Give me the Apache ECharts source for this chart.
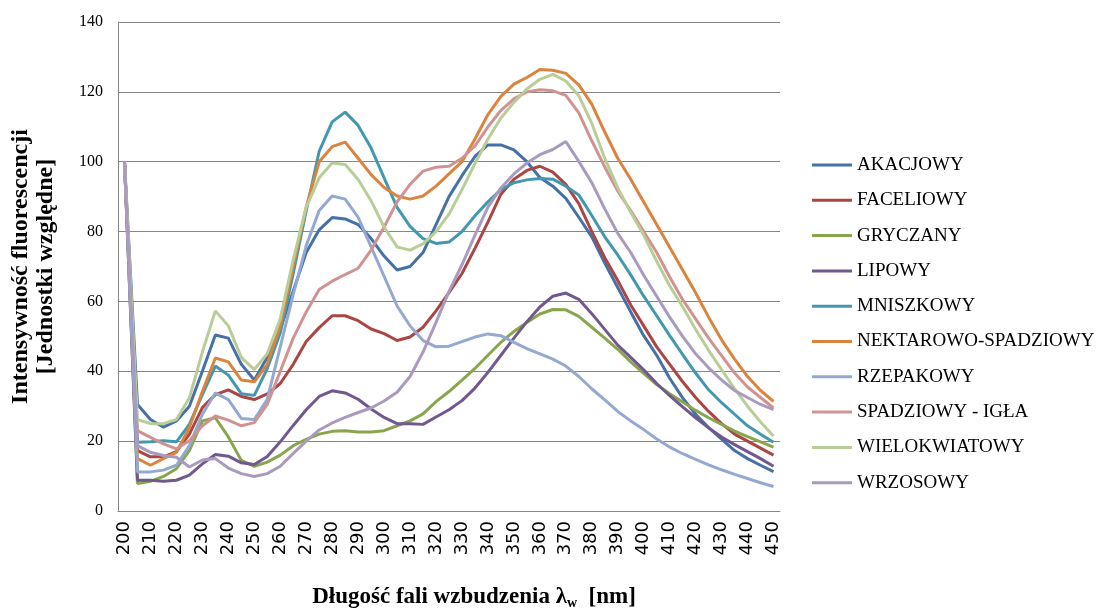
<!DOCTYPE html>
<html>
<head>
<meta charset="utf-8">
<script src="https://cdn.jsdelivr.net/npm/echarts@6/dist/echarts.min.js"></script>
<style>html,body{margin:0;padding:0;background:#fff}#c{width:1104px;height:615px}</style>
</head>
<body>
<div id="c"></div>
<script>
const categories = ['200','205','210','215','220','225','230','235','240','245','250','255','260','265','270','275','280','285','290','295','300','305','310','315','320','325','330','335','340','345','350','355','360','365','370','375','380','385','390','395','400','405','410','415','420','425','430','435','440','445','450'];
const yTicks = [0, 20, 40, 60, 80, 100, 120, 140];
const seriesNames = ['AKACJOWY','FACELIOWY','GRYCZANY','LIPOWY','MNISZKOWY','NEKTAROWO-SPADZIOWY','RZEPAKOWY','SPADZIOWY - IGŁA','WIELOKWIATOWY','WRZOSOWY'];
const akacjowy = [100,30.5,26.2,24,25.8,30,40,50.4,49.5,42,37.5,44,52,63,74,80.5,84,83.6,82,78,73,69,70,74,82,90,96,101.5,104.8,104.8,103.4,100,95.5,93,89.5,84.1,78.5,71,64,57,50.2,44.6,38,32.4,27.7,23.9,20.6,17.3,15,13.1,11.3];
const faceliowy = [100,17.3,15.5,15.5,17,22,29.6,33.3,34.7,32.8,31.9,33.5,36.5,42,48.5,52.5,55.9,55.9,54.5,52.1,50.8,48.8,49.8,52.6,57.3,62.5,68,75.2,82.7,90.7,95,97.5,98.7,97,93.5,88,80,72.5,66,59,53,47,42,37,32.5,28.5,25,22,20,18,16];
const gryczany = [100,7.9,8.5,9.9,12.1,17.3,25.8,26.7,21.2,14.5,12.8,14,16,18.7,20.5,22,22.8,23,22.6,22.6,23,24.4,25.8,27.8,31.3,34.2,37.5,40.8,44.6,48.3,51.4,54,56.4,57.7,57.6,55.7,52.6,49.5,46.3,42.7,39.4,36.2,33.6,31.2,28.8,26.7,24.8,22.9,21.3,19.8,18.3];
const lipowy = [100,8.8,8.8,8.5,8.8,10.3,13.5,16.2,15.7,13.8,13.3,15.6,19.8,24.5,29,32.8,34.4,33.8,32,29.2,26.8,25,25,24.8,26.9,29,31.6,35.2,39.7,44.6,49.5,54.2,58.4,61.5,62.4,60.6,56.5,52,47.5,44,40.4,36.5,33,29.8,26.7,23.8,21.2,19,17,15,12.8];
const mniszkowy = [100,19.7,19.8,20.1,19.8,24.8,33.3,41.5,38.9,33.6,33.1,40.8,51,68,86,103,111.4,114.2,110.4,103.9,95.4,86.9,81.5,78,76.6,77,80,84.5,88.5,92,94,94.8,95.2,95,93,90.5,84.6,78.5,73.3,67.6,61.5,55.9,50.2,44.8,39.5,34.7,31,27.7,24.4,22,19.7];
const nektarowo = [100,15,13.1,15,16.8,23.9,34.2,43.8,42.7,37.5,37,42,53,70,87,100,104.3,105.6,101,96.3,92.6,90.2,89.3,90.2,93,96.5,100,106.5,113.5,118.7,122.2,124.1,126.4,126.2,125.3,122,116.5,108.5,101,95,88.5,82,75.5,69,62.5,55.5,49,43.5,38.5,34.5,31.4];
const rzepakowy = [100,11.2,11.2,11.7,13.1,18.7,27.7,33.8,31.9,26.5,26.2,32,47,62,76,86,90.2,89.3,84.1,75.6,67.2,58.7,53,48.8,47,47.2,48.5,49.8,50.7,50.2,48.3,46.5,45,43.5,41.5,38.5,35,31.8,28.5,25.8,23.3,20.6,18.3,16.4,14.8,13.2,11.8,10.5,9.3,8.1,7];
const spadziowy = [100,23,21.1,19.2,17.8,20.1,24.4,27.2,26,24.4,25.3,30.5,40,49.5,57,63.4,65.8,67.7,69.5,74.7,81.3,88.5,93.5,97.3,98.4,98.7,101,104.5,110,114.7,118,120,120.6,120.3,119,114,106,98.5,91.6,86,80,74,67,60.5,55,49.5,44.5,39.5,35.5,32.5,29.5];
const wielokwiatowy = [100,26.2,25,25,26.2,32.4,45.5,57.3,53,44,40.5,45,55,72,87,95.4,99.6,99.2,94.9,88.8,81.3,75.6,74.7,76.5,80,85,92,99.5,106.5,112.5,117,120.8,123.6,125,123.1,118.9,111,101,92.5,85.5,79,71.5,64.5,58.5,52,46,40.5,35,30,25.5,21.5];
const wrzosowy = [100,18.7,16.8,15.9,15.4,12.6,14.6,15,12.3,10.7,9.9,10.7,12.8,16.5,20,23.2,25.2,26.8,28.2,29.5,31.5,34,38.5,45.5,54,62.9,70.5,79,87,92.5,96.5,99.6,102,103.5,105.8,100.1,94,86.5,79.5,74,67.5,61.5,55.5,50,45,41,37.5,34.5,32.5,30.5,29];

const seriesData = [akacjowy, faceliowy, gryczany, lipowy, mniszkowy, nektarowo, rzepakowy, spadziowy, wielokwiatowy, wrzosowy];
const colors = ['#4571A8','#AA4643','#89A54E','#71588F','#4198AF','#DB843D','#93A9CF','#D19392','#B9CD96','#A99BBD'];

const serif = "'Liberation Serif', 'Times New Roman', serif";
const chart = echarts.init(document.getElementById('c'));
chart.setOption({
  animation: false,
  color: colors,
  grid: { left: 116, right: 324, top: 22, bottom: 97 },
  legend: {
    orient: 'vertical',
    left: 812,
    top: 155,
    padding: 0,
    itemWidth: 40,
    itemHeight: 3,
    itemGap: 15.3,
    icon: 'rect',
    textStyle: { fontFamily: serif, fontSize: 19, color: '#000', lineHeight: 20 },
    data: seriesNames
  },
  xAxis: {
    type: 'category',
    data: categories,
    boundaryGap: true,
    axisLine: { lineStyle: { color: '#868686', width: 1 } },
    axisTick: { show: false },
    axisLabel: { interval: 1, rotate: 90, margin: 10, fontFamily: "'DejaVu Sans', sans-serif", fontSize: 18, color: '#000' },
    name: '{t|Długość fali wzbudzenia λ}{s|w}{t|  [nm]}',
    nameLocation: 'middle',
    nameGap: 73,
    nameTextStyle: {
      padding: [0, 0, 0, 50],
      rich: {
        t: { fontFamily: serif, fontWeight: 'bold', fontSize: 23, color: '#000', lineHeight: 26, verticalAlign: 'middle' },
        s: { fontFamily: serif, fontWeight: 'bold', fontSize: 14, color: '#000', lineHeight: 14, verticalAlign: 'bottom' }
      }
    }
  },
  yAxis: {
    type: 'value',
    min: yTicks[0],
    max: yTicks[yTicks.length - 1],
    interval: 20,
    axisLine: { show: true, lineStyle: { color: '#868686', width: 1 } },
    axisTick: { show: false },
    splitLine: { lineStyle: { color: '#868686', width: 1 } },
    axisLabel: { margin: 15, fontFamily: serif, fontSize: 16, color: '#000' },
    name: 'Intensywność fluorescencji\n[Jednostki względne]',
    nameLocation: 'middle',
    nameRotate: 90,
    nameGap: 60,
    nameTextStyle: { fontFamily: serif, fontWeight: 'bold', fontSize: 24, color: '#000', lineHeight: 25 }
  },
  series: seriesNames.map((n, i) => ({
    name: n,
    type: 'line',
    data: seriesData[i],
    showSymbol: false,
    symbol: 'none',
    smooth: false,
    lineStyle: { width: 3, color: colors[i] },
    itemStyle: { color: colors[i] }
  }))
});
</script>
</body>
</html>
